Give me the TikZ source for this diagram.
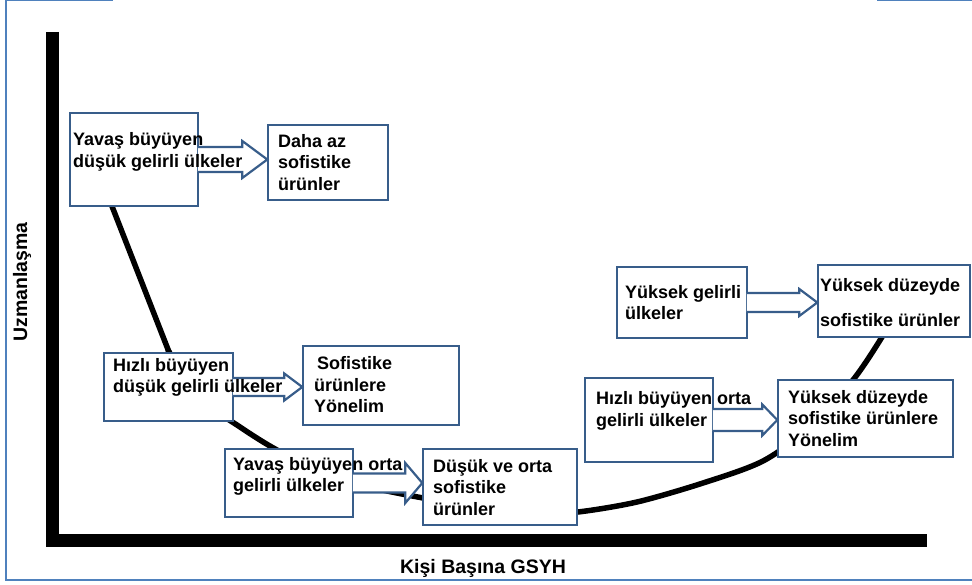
\documentclass[tikz,border=0pt]{standalone}
\usepackage{fontspec}
\setmainfont{Liberation Sans}
\usetikzlibrary{calc}
\definecolor{kutumavi}{RGB}{56,93,138}
\definecolor{cerceve}{RGB}{79,129,189}

% blok ok: #1 kaynak, #2 hedef, #3 govde yari, #4 bas yari, #5 bas boyu
\newcommand{\blokok}[5]{%
  \coordinate (uc) at (#1.east -| #2.west);
  \filldraw[okcizgi] ($(#1.east)+(-1.4,-#3)$) -- ($(uc)+(-#5,-#3)$) -- ($(uc)+(-#5,-#4)$)
    -- (uc) -- ($(uc)+(-#5,#4)$) -- ($(uc)+(-#5,#3)$) -- ($(#1.east)+(-1.4,#3)$);
}

\begin{document}
\begin{tikzpicture}[x=1pt, y=-1pt,
    every node/.style={font=\bfseries\fontsize{18}{21.5}\selectfont},
    kaynak/.style={draw=kutumavi, line width=2.6pt, fill=white, inner sep=0pt},
    hedef/.style={draw=kutumavi, line width=1.4pt, fill=white, inner sep=0pt},
    yazi/.style={anchor=west, align=left, inner sep=0pt},
    okcizgi/.style={draw=kutumavi, fill=white, line width=2.2pt, line join=miter},
    eksen/.style={line width=13pt, line join=miter},
    egri/.style={line width=5.5pt, line cap=round}]
    \useasboundingbox (0,0) rectangle (972,585);

    % cerceve
    \draw[cerceve, line width=1.3pt] (113,0.7) -- (6,0.7) -- (6,580) -- (972,580);
    \draw[cerceve, line width=1.3pt] (877,0.7) -- (972,0.7);

    % eksenler
    \coordinate (ust) at (52,32);
    \coordinate (orijin) at (52,540);
    \coordinate (sag) at (927,540);
    \draw[eksen] (ust) -- (orijin) -- (sag);
    \node[font=\bfseries\fontsize{19.5}{22}\selectfont] (xetiket) at (483,568) {Kişi Başına GSYH};
    \node[font=\bfseries\fontsize{19.5}{22}\selectfont, rotate=90] (yetiket) at (22,282) {Uzmanlaşma};

    % egri
    \draw[egri] (108,196) -- (169,352);
    \draw[egri] plot[smooth, tension=0.5] coordinates {(168,350) (200,398) (240,427)
      (277,450) (320,470) (370,487) (423,498) (480,508) (540,513) (578,512) (637,502)
      (703,483) (763,461) (810,427) (853,380) (882,337) (895,312)};

    % kutular
    \node[kaynak, minimum width=128pt, minimum height=93pt] (k1) at (134,159.5) {};
    \node[hedef, minimum width=120pt, minimum height=75pt] (k2) at (328,162.5) {};
    \node[kaynak, minimum width=129pt, minimum height=68pt] (k3) at (168.5,387) {};
    \node[hedef, minimum width=156pt, minimum height=79pt] (k4) at (381,385.5) {};
    \node[kaynak, minimum width=128pt, minimum height=68pt] (k5) at (289,483) {};
    \node[hedef, minimum width=154pt, minimum height=76pt] (k6) at (500,487) {};
    \node[kaynak, minimum width=130pt, minimum height=71pt] (k7) at (682,302.5) {};
    \node[hedef, minimum width=152pt, minimum height=72pt] (k8) at (894,301) {};
    \node[kaynak, minimum width=128pt, minimum height=84pt] (k9) at (649,420) {};
    \node[hedef, minimum width=175pt, minimum height=77pt] (k10) at (865.5,418.5) {};

    % oklar
    \blokok{k1}{k2}{12.5}{18.5}{25}
    \blokok{k3}{k4}{9}{13.5}{18}
    \blokok{k5}{k6}{9.5}{20}{17}
    \blokok{k7}{k8}{9.5}{13.5}{18}
    \blokok{k9}{k10}{11}{15.5}{15}

    % yazilar
    \node[yazi] (y1) at (73,152) {Yavaş büyüyen\\düşük gelirli ülkeler};
    \node[yazi] (y2) at (278,162.5) {Daha az\\sofistike\\ürünler};
    \node[yazi] (y3) at (113,377.5) {Hızlı büyüyen\\düşük gelirli ülkeler};
    \node[yazi] (y4) at (314,385) {\,Sofistike\\ürünlere\\Yönelim};
    \node[yazi] (y5) at (233,476.5) {Yavaş büyüyen orta\\gelirli ülkeler};
    \node[yazi] (y6) at (433,487.5) {Düşük ve orta\\sofistike\\ürünler};
    \node[yazi] (y7) at (625,302.5) {Yüksek gelirli\\ülkeler};
    \node[yazi] (y8) at (820,302.5) {Yüksek düzeyde\\[13.5pt]sofistike ürünler};
    \node[yazi] (y9) at (596,411) {Hızlı büyüyen orta\\gelirli ülkeler};
    \node[yazi] (y10) at (788,418.5) {Yüksek düzeyde\\sofistike ürünlere\\Yönelim};
\end{tikzpicture}
\end{document}
